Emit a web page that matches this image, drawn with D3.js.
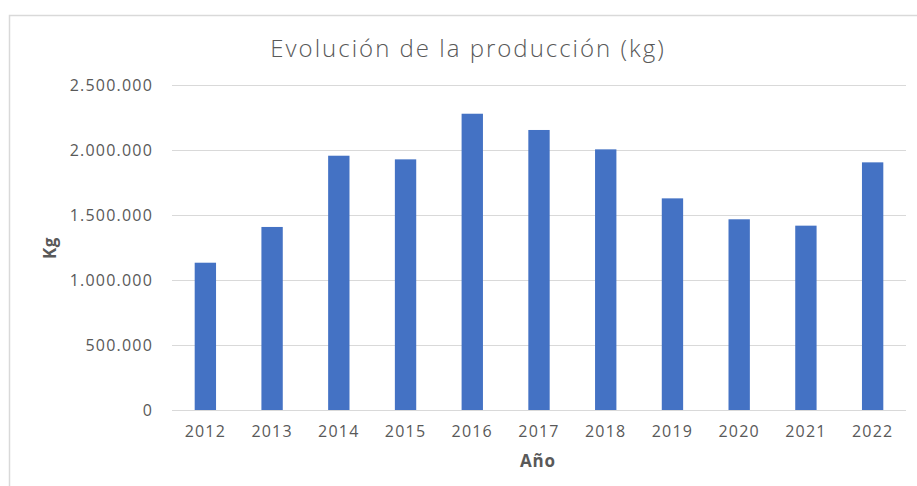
<!DOCTYPE html>
<html>
<head>
<meta charset="utf-8">
<script src="https://cdn.jsdelivr.net/npm/d3@7"></script>
<style>
html,body{margin:0;padding:0;background:#fff;}
svg{display:block;}
</style>
</head>
<body>
<svg id="chart" width="917" height="486"></svg>
<script>
const years = ["2012","2013","2014","2015","2016","2017","2018","2019","2020","2021","2022"];
const production = [1133000,1408000,1956000,1928000,2279000,2154000,2005000,1628000,1467000,1418000,1905000];
const yTicks = [0,500000,1000000,1500000,2000000,2500000];
const title = "Evolución de la producción (kg)";
const xTitle = "Año";
const yTitle = "Kg";

const svg = d3.select("#chart");
const W = 917, H = 486;
const m = {left:172, right:11, top:85, bottom:76};

svg.append("rect").attr("x",9.5).attr("y",15.5).attr("width",W+10).attr("height",H+10)
  .attr("fill","#fff").attr("stroke","#d9d9d9").attr("stroke-width",1.5);

const x = d3.scaleBand().domain(years).range([m.left, W-m.right]).paddingInner(0.68).paddingOuter(0.34);
const y = d3.scaleLinear().domain([0,2500000]).range([H-m.bottom, m.top]);

const fmt = v => d3.format(",")(v).replace(/,/g,".");

// gridlines
svg.append("g").selectAll("line").data(yTicks).join("line")
  .attr("x1",m.left).attr("x2",W-m.right)
  .attr("y1",d=>Math.round(y(d))+0.5).attr("y2",d=>Math.round(y(d))+0.5)
  .attr("stroke","#d9d9d9").attr("stroke-width",1);

// bars
svg.append("g").selectAll("rect").data(production).join("rect")
  .attr("x",(d,i)=>x(years[i])).attr("width",x.bandwidth())
  .attr("y",d=>y(d)).attr("height",d=>y(0)-y(d))
  .attr("fill","#4472C4");

const font = "'Open Sans', sans-serif";

// y axis
const yAxis = d3.axisLeft(y).tickValues(yTicks).tickFormat(fmt).tickSize(0).tickPadding(19);
const gy = svg.append("g").attr("transform",`translate(${m.left},0)`).call(yAxis);
gy.select(".domain").remove();
gy.selectAll("text").attr("fill","#595959").style("font-family",font).style("font-size","16px").style("letter-spacing","1.2px");

// x axis
const xAxis = d3.axisBottom(x).tickSize(0).tickPadding(16);
const gx = svg.append("g").attr("transform",`translate(0,${H-m.bottom})`).call(xAxis);
gx.select(".domain").remove();
gx.selectAll("text").attr("fill","#595959").style("font-family",font).style("font-size","16px").style("letter-spacing","1.2px");

// title
svg.append("text").attr("x",468).attr("y",57).attr("text-anchor","middle")
  .attr("fill","#595959").style("font-family",font).style("font-weight","300")
  .style("font-size","24px").style("letter-spacing","2px").text(title);

// axis titles
svg.append("text").attr("x",538).attr("y",467).attr("text-anchor","middle")
  .attr("fill","#595959").style("font-family",font).style("font-weight","700")
  .style("font-size","17px").style("letter-spacing","0.8px").text(xTitle);
svg.append("text").attr("transform","translate(56,248) rotate(-90)").attr("text-anchor","middle")
  .attr("fill","#595959").style("font-family",font).style("font-weight","700")
  .style("font-size","17px").style("letter-spacing","0.5px").text(yTitle);
</script>
</body>
</html>
